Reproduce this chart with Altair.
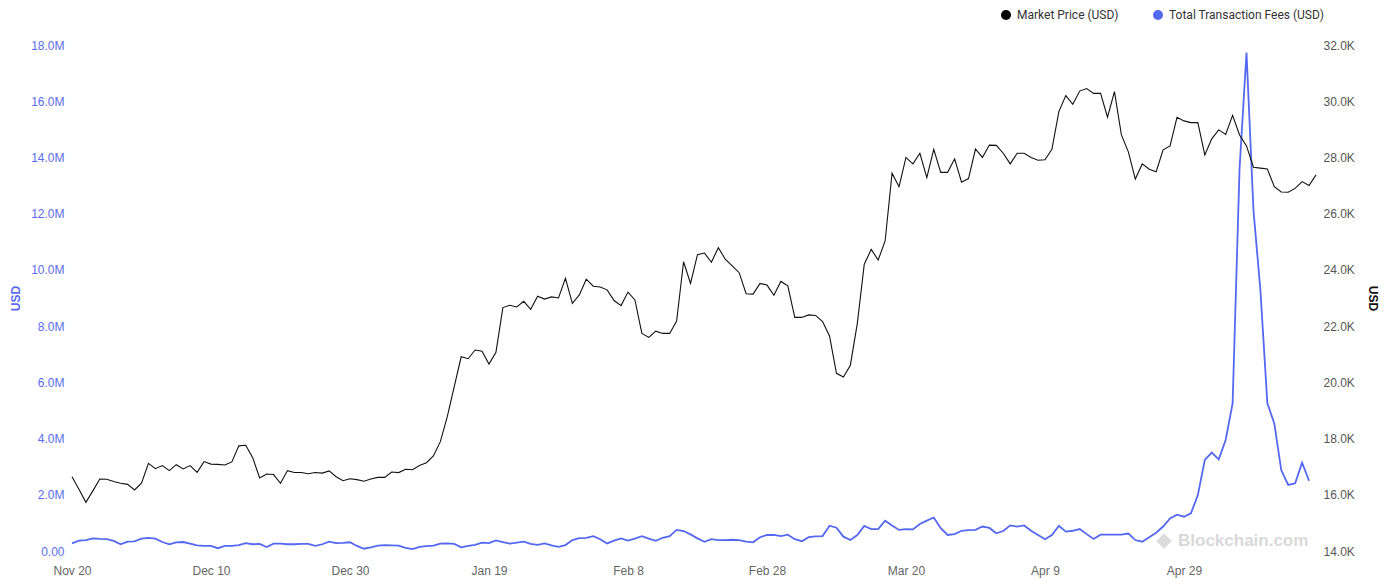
import altair as alt
import pandas as pd
from datetime import date, timedelta

# ---------------- data ----------------
START = date(2022, 11, 20)

# Market price, thousands of USD, one value per day from Nov 20
price_k = [
    16.64, 16.20, 15.73, 16.14, 16.56, 16.55, 16.47, 16.41, 16.37, 16.17,
    16.41, 17.12, 16.93, 17.04, 16.86, 17.07, 16.92, 17.04, 16.80, 17.18,
    17.09, 17.08, 17.06, 17.17, 17.74, 17.76, 17.32, 16.60, 16.74, 16.72,
    16.41, 16.86, 16.79, 16.79, 16.75, 16.79, 16.77, 16.85, 16.64, 16.50,
    16.57, 16.54, 16.48, 16.56, 16.62, 16.62, 16.81, 16.79, 16.91, 16.89,
    17.04, 17.14, 17.38, 17.89, 18.78, 19.85, 20.91, 20.84, 21.15, 21.11,
    20.65, 21.07, 22.66, 22.74, 22.68, 22.88, 22.60, 23.06, 22.96, 23.04,
    23.00, 23.70, 22.81, 23.11, 23.67, 23.42, 23.39, 23.29, 22.91, 22.73,
    23.21, 22.93, 21.74, 21.60, 21.82, 21.74, 21.74, 22.18, 24.29, 23.52,
    24.54, 24.60, 24.27, 24.79, 24.38, 24.14, 23.90, 23.15, 23.14, 23.52,
    23.46, 23.10, 23.59, 23.43, 22.31, 22.31, 22.40, 22.38, 22.16, 21.65,
    20.32, 20.19, 20.61, 22.10, 24.20, 24.73, 24.35, 25.03, 27.44, 26.96,
    28.00, 27.77, 28.15, 27.28, 28.29, 27.47, 27.47, 27.95, 27.12, 27.25,
    28.30, 28.00, 28.44, 28.43, 28.15, 27.77, 28.15, 28.15, 28.00, 27.90,
    27.92, 28.29, 29.63, 30.20, 29.89, 30.36, 30.45, 30.28, 30.28, 29.43,
    30.34, 28.80, 28.20, 27.23, 27.77, 27.58, 27.49, 28.27, 28.41, 29.43,
    29.30, 29.24, 29.24, 28.09, 28.66, 28.98, 28.82, 29.50, 28.80, 28.41,
    27.65, 27.62, 27.59, 26.96, 26.77, 26.76, 26.90, 27.14, 27.00, 27.38,
]

# Total transaction fees, millions of USD, one value per day from Nov 20
fees_m = [
    0.27, 0.37, 0.39, 0.45, 0.43, 0.42, 0.36, 0.24, 0.33, 0.34,
    0.44, 0.47, 0.44, 0.32, 0.24, 0.31, 0.32, 0.26, 0.20, 0.18,
    0.18, 0.10, 0.18, 0.18, 0.21, 0.28, 0.24, 0.25, 0.14, 0.26,
    0.26, 0.24, 0.24, 0.25, 0.25, 0.18, 0.24, 0.33, 0.28, 0.29,
    0.31, 0.18, 0.08, 0.13, 0.19, 0.21, 0.20, 0.19, 0.11, 0.07,
    0.15, 0.17, 0.19, 0.26, 0.27, 0.25, 0.13, 0.18, 0.22, 0.30,
    0.28, 0.38, 0.32, 0.26, 0.30, 0.33, 0.25, 0.22, 0.27, 0.20,
    0.15, 0.21, 0.39, 0.46, 0.47, 0.53, 0.42, 0.27, 0.37, 0.45,
    0.37, 0.44, 0.53, 0.44, 0.36, 0.47, 0.53, 0.75, 0.71, 0.59,
    0.45, 0.33, 0.42, 0.39, 0.39, 0.40, 0.39, 0.33, 0.31, 0.49,
    0.57, 0.57, 0.53, 0.58, 0.42, 0.35, 0.49, 0.52, 0.53, 0.90,
    0.83, 0.51, 0.39, 0.57, 0.89, 0.78, 0.78, 1.08, 0.91, 0.75,
    0.78, 0.77, 0.96, 1.08, 1.19, 0.81, 0.57, 0.60, 0.72, 0.74,
    0.75, 0.87, 0.82, 0.63, 0.71, 0.91, 0.87, 0.91, 0.72, 0.57,
    0.42, 0.57, 0.90, 0.69, 0.72, 0.78, 0.60, 0.43, 0.58, 0.58,
    0.58, 0.58, 0.62, 0.39, 0.33, 0.49, 0.65, 0.87, 1.16, 1.29,
    1.22, 1.34, 1.99, 3.24, 3.50, 3.26, 3.95, 5.25, 13.60, 17.73,
    12.13, 9.28, 5.25, 4.54, 2.88, 2.35, 2.41, 3.14, 2.50,
]

tick_days = [0, 20, 40, 60, 80, 100, 120, 140, 160]
tick_labels = ["Nov 20", "Dec 10", "Dec 30", "Jan 19", "Feb 8",
               "Feb 28", "Mar 20", "Apr 9", "Apr 29"]
series_names = ["Market Price (USD)", "Total Transaction Fees (USD)"]
left_ticks = [i * 2_000_000 for i in range(10)]
right_ticks = [14000 + i * 2000 for i in range(10)]

BLUE = "#5468f0"
BLUE_TXT = "#5a6df2"

price_df = pd.DataFrame({
    "day": list(range(len(price_k))),
    "date": [(START + timedelta(days=i)).isoformat() for i in range(len(price_k))],
    "value": [v * 1000 for v in price_k],
})
fees_df = pd.DataFrame({
    "day": list(range(len(fees_m))),
    "date": [(START + timedelta(days=i)).isoformat() for i in range(len(fees_m))],
    "value": [v * 1_000_000 for v in fees_m],
})
legend_df = pd.DataFrame({"series": series_names})

label_js = "[" + ",".join("'%s'" % t for t in tick_labels) + "]"
x_enc = alt.X(
    "day:Q",
    scale=alt.Scale(domain=[0, len(price_k) - 1], nice=False, zero=False),
    axis=alt.Axis(values=tick_days, labelExpr=label_js + "[round(datum.value/20)]",
                  title=None, labelColor="#666666", labelPadding=14,
                  labelFlush=False,
                  labelFont="Liberation Sans", labelFontSize=12),
)

fees_line = alt.Chart(fees_df).mark_line(color=BLUE, strokeWidth=1.8).encode(
    x=x_enc,
    y=alt.Y("value:Q",
            scale=alt.Scale(domain=[0, 18_000_000], nice=False, zero=True),
            axis=alt.Axis(orient="left", values=left_ticks,
                          labelExpr="datum.value == 0 ? '0.00' : format(datum.value/1e6, '.1f') + 'M'",
                          labelColor=BLUE_TXT, labelPadding=8, labelFlush=False,
                          title="USD", titleColor=BLUE_TXT, titleFontSize=12,
                          titleFontWeight="bold", titleFont="Liberation Sans",
                          titleX=-57, titleY=253, titleBaseline="middle")),
)

price_line = alt.Chart(price_df).mark_line(color="#111111", strokeWidth=1.1).encode(
    x=x_enc,
    y=alt.Y("value:Q",
            scale=alt.Scale(domain=[14000, 32000], nice=False, zero=False),
            axis=alt.Axis(orient="right", values=right_ticks,
                          labelExpr="format(datum.value/1000, '.1f') + 'K'",
                          labelColor="#555555", labelPadding=7, labelFlush=False,
                          title="USD", titleColor="#111111", titleFontSize=12,
                          titleFontWeight="bold", titleFont="Liberation Sans",
                          titleX=56, titleY=253, titleBaseline="middle", titleAngle=90)),
)

legend_layer = alt.Chart(legend_df).mark_point(filled=True, size=0, opacity=1).encode(
    x=alt.value(0), y=alt.value(0),
    color=alt.Color("series:N",
                    scale=alt.Scale(domain=series_names, range=["#000000", BLUE]),
                    legend=alt.Legend(orient="none", legendX=928, legendY=-36,
                                      direction="horizontal", title=None,
                                      symbolType="circle", symbolSize=100,
                                      symbolStrokeWidth=0, labelOffset=5,
                                      columnPadding=33, padding=0,
                                      labelFont="Roboto", labelFontSize=12,
                                      labelColor="#333333")),
)

wm_df = pd.DataFrame({"txt": ["Blockchain.com"]})
wm_text = alt.Chart(wm_df).mark_text(
    align="left", baseline="middle", font="Liberation Sans", fontSize=17,
    fontWeight="bold", color="#d9d9d9",
).encode(text="txt:N", x=alt.value(1106), y=alt.value(496))
wm_logo = alt.Chart(wm_df).mark_point(
    shape="diamond", filled=True, size=240, color="#dcdcdc", opacity=1,
).encode(x=alt.value(1092), y=alt.value(496))

chart = alt.layer(
    wm_logo, wm_text, fees_line, price_line, legend_layer
).resolve_scale(y="independent").properties(
    width=1244, height=506,
    autosize=alt.AutoSizeParams(type="none"),
    padding={"left": 64, "top": 37, "right": 63, "bottom": 27},
).configure_view(stroke=None).configure_axis(
    grid=False, domain=False, ticks=False,
    labelFont="Liberation Sans", labelFontSize=12,
)

chart.save("out.html", embed_options={"renderer": "svg", "actions": False})
